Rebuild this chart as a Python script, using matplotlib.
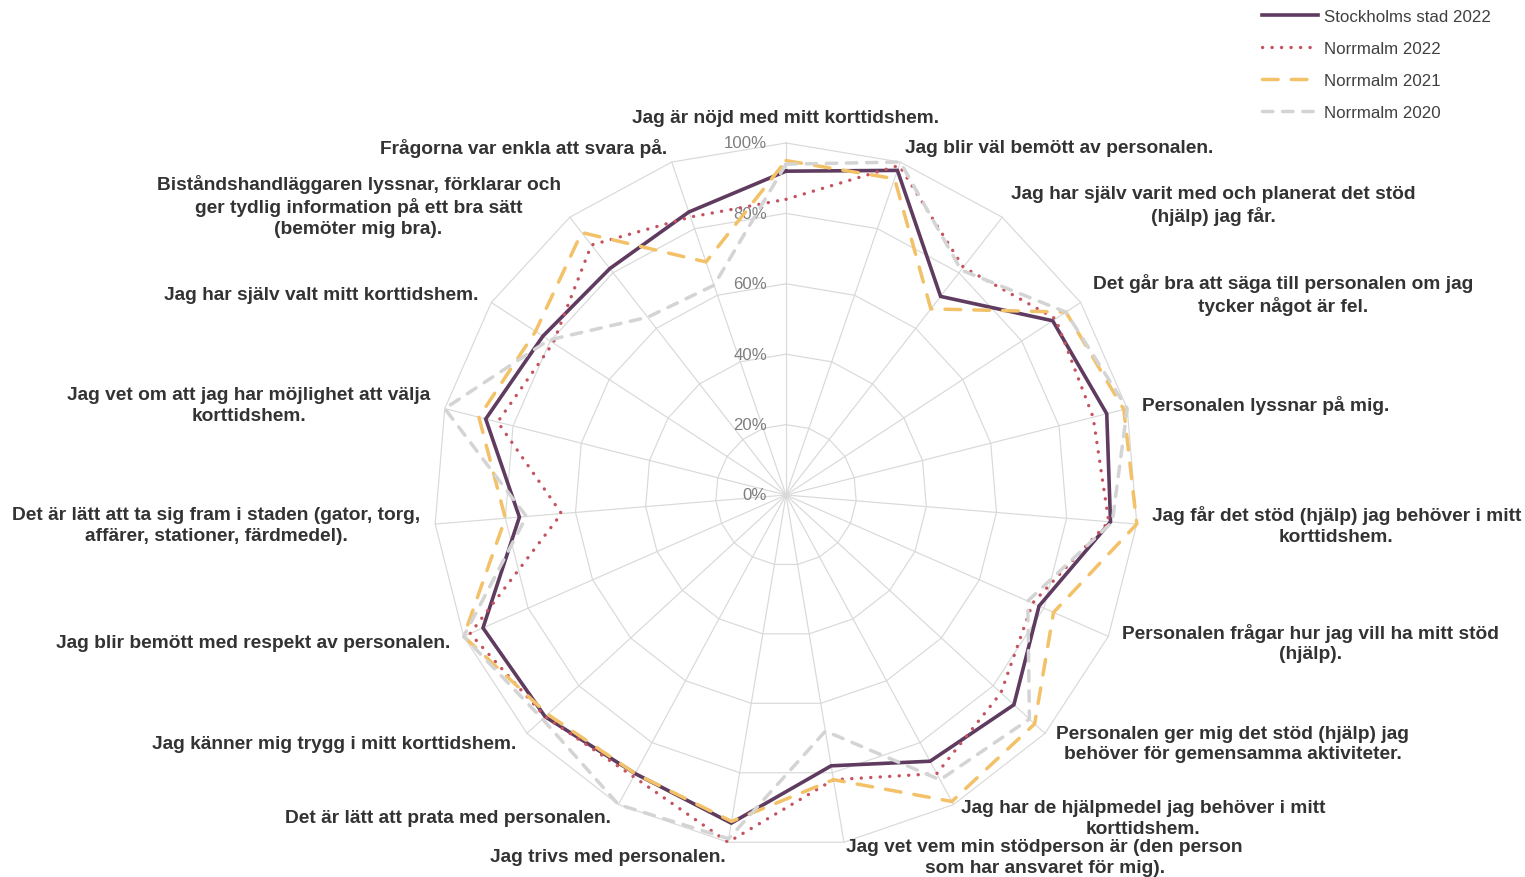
import numpy as np
import matplotlib
matplotlib.use('Agg')
import matplotlib.pyplot as plt

categories = [
    "Jag är nöjd med mitt korttidshem.",
    "Jag blir väl bemött av personalen.",
    "Jag har själv varit med och planerat det stöd\n(hjälp) jag får.",
    "Det går bra att säga till personalen om jag\ntycker något är fel.",
    "Personalen lyssnar på mig.",
    "Jag får det stöd (hjälp) jag behöver i mitt\nkorttidshem.",
    "Personalen frågar hur jag vill ha mitt stöd\n(hjälp).",
    "Personalen ger mig det stöd (hjälp) jag\nbehöver för gemensamma aktiviteter.",
    "Jag har de hjälpmedel jag behöver i mitt\nkorttidshem.",
    "Jag vet vem min stödperson är (den person\nsom har ansvaret för mig).",
    "Jag trivs med personalen.",
    "Det är lätt att prata med personalen.",
    "Jag känner mig trygg i mitt korttidshem.",
    "Jag blir bemött med respekt av personalen.",
    "Det är lätt att ta sig fram i staden (gator, torg,\naffärer, stationer, färdmedel).",
    "Jag vet om att jag har möjlighet att välja\nkorttidshem.",
    "Jag har själv valt mitt korttidshem.",
    "Biståndshandläggaren lyssnar, förklarar och\nger tydlig information på ett bra sätt\n(bemöter mig bra).",
    "Frågorna var enkla att svara på.",
]

series_names = ["Stockholms stad 2022", "Norrmalm 2022", "Norrmalm 2021", "Norrmalm 2020"]

stockholm_2022 = [92, 97.5, 71.5, 90.5, 94, 92.5, 78.5, 88, 86, 78, 94.5, 90, 93, 94, 76, 88, 82.5, 81.5, 85]
norrmalm_2022 = [84, 99, 82, 91.5, 90, 92, 76.5, 83, 90, 82, 100, 91, 93, 98, 64, 84.5, 79, 90, 83.5]
norrmalm_2021 = [95, 95, 67, 95, 99, 100, 83, 96, 99, 82, 94, 90, 92, 100, 80, 90, 85, 94.5, 70]
norrmalm_2020 = [94, 100, 81, 95, 100, 93, 75, 94, 92, 68, 99, 100, 94, 100, 74, 100, 80.5, 64, 63]

ticks = [0, 20, 40, 60, 80, 100]
tick_labels = ["0%", "20%", "40%", "60%", "80%", "100%"]

plt.rcParams['font.family'] = ['Liberation Sans', 'DejaVu Sans']

W, H = 1525, 878
fig = plt.figure(figsize=(W / 100, H / 100), dpi=100)
cx, cy, R = 786, 496, 352
ax = fig.add_axes([(cx - R) / W, (H - cy - R) / H, 2 * R / W, 2 * R / H], projection='polar')
ax.set_theta_zero_location('N')
ax.set_theta_direction(-1)
ax.set_ylim(0, 100)
ax.grid(False)
ax.spines['polar'].set_visible(False)
ax.set_xticks([])
ax.set_yticks([])
ax.patch.set_alpha(0)

n = len(categories)
theta = np.arange(n) * 2 * np.pi / n
theta_c = np.append(theta, theta[0])

grid_color = '#d9d9d9'
for t in ticks[1:]:
    ax.plot(theta_c, [t] * (n + 1), color=grid_color, lw=0.85, zorder=1, clip_on=False)
for th in theta:
    ax.plot([th, th], [0, 100], color=grid_color, lw=0.85, zorder=1, clip_on=False)

styles = [
    dict(color='#5f3b5f', lw=2.6, ls='-', solid_joinstyle='miter'),
    dict(color='#c4525f', lw=2.4, ls=(0, (0.05, 2.8)), dash_capstyle='round'),
    dict(color='#f2c168', lw=2.5, ls=(0, (4.5, 3.8)), dash_capstyle='round'),
    dict(color='#d4d4d4', lw=2.5, ls=(0, (3.0, 2.8)), dash_capstyle='round'),
]
data = [stockholm_2022, norrmalm_2022, norrmalm_2021, norrmalm_2020]
handles = []
for i, (vals, st) in enumerate(zip(data, styles)):
    v = np.append(vals, vals[0])
    ln, = ax.plot(theta_c, v, zorder=3 + i, clip_on=False, **st)
    handles.append(ln)

for t, lab in zip(ticks, tick_labels):
    ax.annotate(lab, xy=(0, t), xytext=(-19, 0), textcoords='offset pixels',
                ha='right', va='center', color='#7f7f7f', fontsize=12.1,
                annotation_clip=False, zorder=2)

for th, lab in zip(theta, categories):
    s, c = np.sin(th), np.cos(th)
    deg = np.degrees(th)
    va = 'center'
    if deg < 1:
        ha, va = 'center', 'bottom'
    elif deg < 180:
        ha = 'left'
    else:
        ha = 'right'
    ax.annotate(lab, xy=(th, 100), xytext=(15 * s, 15 * c + (2 if deg < 1 else 0)),
                textcoords='offset pixels',
                ha=ha, va=va, ma='center', fontsize=13.8, fontweight='bold',
                color='#333333', linespacing=1.28, annotation_clip=False)

leg = fig.legend(handles, series_names, loc='upper left',
                 bbox_to_anchor=(1262 / W, 1 - 10 / H), frameon=False, fontsize=12.2,
                 handlelength=3.3, handletextpad=0.35, labelspacing=1.0,
                 borderpad=0, borderaxespad=0)
for t in leg.get_texts():
    t.set_color('#404040')

fig.savefig('out.png', dpi=100)
